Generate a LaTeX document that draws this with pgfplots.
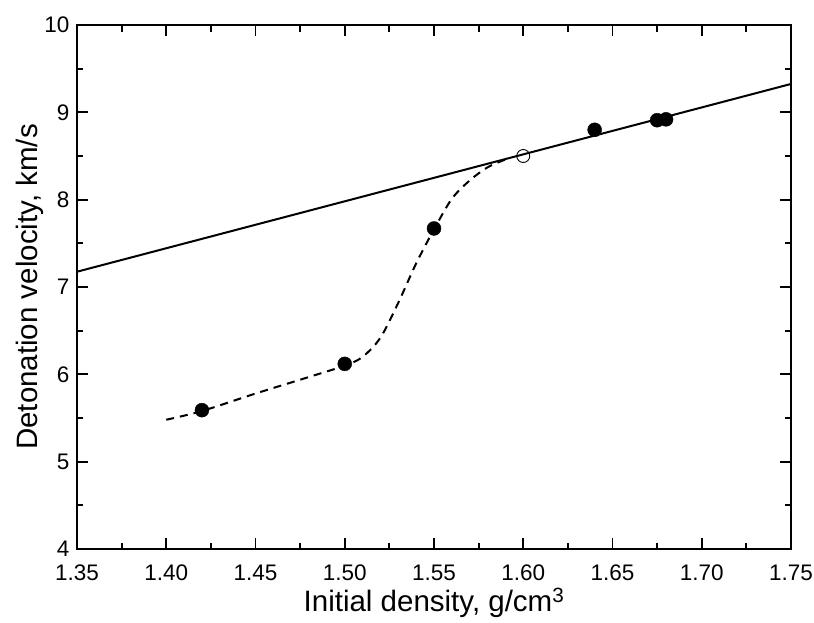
\documentclass[border=0pt]{standalone}
\usepackage{pgfplots}
\pgfplotsset{compat=1.18}
\usepackage{fontspec}
\setmainfont{Liberation Sans}
\begin{document}
\begin{tikzpicture}
\useasboundingbox (-77pt,-73pt) rectangle (737pt,549pt);
\begin{axis}[
  at={(0,0)}, anchor=south west,
  scale only axis, width=714pt, height=524pt,
  xmin=1.35, xmax=1.75, ymin=4, ymax=10,
  xtick={1.35,1.40,...,1.76}, ytick={4,5,...,10},
  minor x tick num=1, minor y tick num=1,
  tick align=inside,
  major tick length=11pt, minor tick length=6.5pt,
  every tick/.style={black, line width=1.9pt},
  axis line style={line width=2pt},
  /pgf/number format/assume math mode=true,
  xticklabel={\pgfmathprintnumber[fixed,fixed zerofill,precision=2]{\tick}},
  ticklabel style={font=\fontsize{22.5}{27}\selectfont},
  xticklabel style={anchor=base, yshift=-31pt},
  yticklabel style={xshift=-4pt},
  label style={font=\fontsize{29.5}{35}\selectfont},
  xlabel={Initial density, g/cm\textsuperscript{3}},
  ylabel={Detonation velocity, km/s},
  xlabel style={at={(axis description cs:0.5,-0.1202)}, anchor=base},
  ylabel style={at={(axis description cs:-0.056,0.5)}, anchor=base},
  clip=false,
]
\addplot[black, line width=2pt] coordinates {(1.35,7.175) (1.75,9.325)};
\addplot[black, line width=2pt, dash pattern=on 8pt off 6pt, smooth, tension=0.5] coordinates {
(1.40,5.48) (1.42,5.58) (1.45,5.78) (1.48,5.97) (1.50,6.10) (1.51,6.20)
(1.52,6.42) (1.53,6.82) (1.54,7.27) (1.55,7.66) (1.56,8.01) (1.57,8.22)
(1.58,8.37) (1.59,8.46)};
\addplot[only marks, mark=*, mark size=7pt, black] coordinates {
(1.42,5.59) (1.50,6.12) (1.55,7.67) (1.64,8.80) (1.675,8.91) (1.68,8.92)};
\addplot[only marks, mark=o, mark size=6.5pt, black, line width=0.9pt, mark options={fill=white}] coordinates {(1.60,8.50)};
\end{axis}
\end{tikzpicture}
\end{document}
